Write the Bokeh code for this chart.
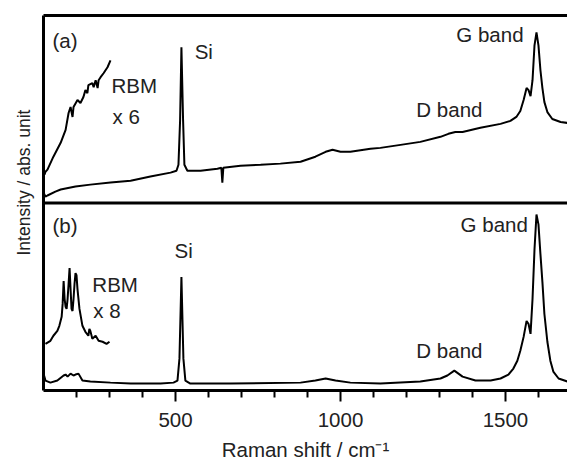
import math
from bokeh.plotting import figure
from bokeh.models import Range1d, FixedTicker, Span, Label, LinearAxis, Title
from bokeh.embed import file_html
from bokeh.resources import INLINE

# ---------------- data (wavenumber cm^-1, intensity a.u. per panel 0..100) -------------
a_wn = [100, 106, 112, 136, 152, 197, 242, 303, 364, 424, 485, 503, 509, 514, 518, 523, 527,
        536, 576, 627, 639, 642, 645, 697, 758, 818, 879, 924, 955, 976, 1000, 1030, 1091,
        1121, 1182, 1242, 1303, 1327, 1348, 1370, 1424, 1485, 1515, 1533, 1545, 1555, 1564,
        1570, 1576, 1582, 1588, 1594, 1600, 1606, 1612, 1618, 1627, 1642, 1667, 1688, 1700]
a_int = [5.6, 3.4, 4.0, 6.1, 7.2, 8.8, 9.8, 10.9, 11.9, 14.1, 16.2, 17.2, 20.4, 44.3, 83.0,
         44.3, 20.4, 17.2, 17.2, 18.3, 18.8, 10.9, 18.8, 19.9, 20.4, 21.0, 22.0, 24.7, 27.3,
         28.4, 27.3, 27.3, 28.9, 29.4, 31.0, 32.6, 35.3, 36.9, 37.9, 37.9, 40.1, 42.2, 43.8,
         45.9, 49.1, 54.9, 61.3, 60.2, 57.0, 65.5, 84.1, 91.0, 84.1, 70.8, 61.3, 53.8, 48.5,
         44.8, 43.2, 42.7, 42.7]

a_rbm_wn = [103, 106, 112, 130, 152, 167, 176, 182, 188, 191, 203, 212, 221, 227, 233, 236,
            248, 252, 258, 264, 267, 273, 282, 294, 303]
a_rbm_int = [15.1, 16.7, 17.8, 24.7, 32.1, 39.0, 48.0, 51.2, 45.9, 51.2, 54.9, 53.3, 56.5,
             60.2, 58.6, 62.9, 63.9, 61.8, 65.5, 61.3, 65.5, 67.1, 69.2, 72.4, 76.1]

b_wn = [100, 106, 121, 142, 161, 167, 173, 182, 191, 197, 206, 218, 242, 303, 364, 455, 494,
        506, 512, 518, 524, 530, 545, 667, 879, 924, 955, 985, 1030, 1121, 1242, 1303, 1324,
        1345, 1370, 1409, 1455, 1485, 1509, 1524, 1536, 1545, 1555, 1564, 1570, 1576, 1582,
        1588, 1594, 1600, 1606, 1612, 1618, 1627, 1636, 1645, 1661, 1688, 1700]
b_int = [9.0, 5.3, 4.2, 5.3, 8.0, 8.5, 7.4, 9.0, 8.0, 8.5, 9.0, 5.3, 4.8, 4.2, 3.7, 3.7, 4.2,
         5.3, 17.0, 60.5, 17.0, 5.3, 3.7, 3.7, 4.2, 5.3, 6.4, 5.3, 4.2, 3.7, 4.8, 6.4, 8.0,
         10.6, 7.4, 5.3, 5.3, 6.4, 8.5, 11.7, 15.9, 21.2, 28.6, 37.1, 35.5, 30.2, 48.8, 75.3,
         93.9, 88.6, 72.7, 57.8, 40.8, 26.0, 15.9, 10.1, 6.4, 4.8, 4.8]

b_rbm_wn = [106, 121, 130, 142, 148, 155, 158, 161, 164, 167, 170, 173, 176, 179, 182, 185,
            188, 191, 194, 197, 200, 203, 209, 218, 227, 236, 239, 242, 248, 258, 267, 279,
            291, 300]
b_rbm_int = [24.9, 26.5, 29.2, 31.8, 34.5, 39.3, 46.2, 58.4, 48.8, 44.6, 43.5, 48.8, 56.8,
             65.3, 54.1, 43.5, 42.4, 48.8, 56.8, 62.6, 61.5, 54.1, 43.5, 34.5, 31.3, 29.2,
             32.9, 31.8, 27.6, 29.2, 26.5, 26.0, 24.9, 26.0]

x_ticks = [500, 1000, 1500]
x_minor = [200, 300, 400, 600, 700, 800, 900, 1100, 1200, 1300, 1400, 1600]

# ---------------- figure -------------
FONT = "Liberation Sans"
FS = "20.5px"
TXT = "#222222"
PANEL_A_OFFSET = 100

p = figure(width=567, height=463, x_range=Range1d(100, 1688), y_range=Range1d(0, 200),
           output_backend="svg", toolbar_location=None,
           min_border_left=43, min_border_right=0, min_border_top=15, min_border_bottom=71)
p.outline_line_color = None
p.grid.visible = False
p.background_fill_color = "white"
p.border_fill_color = "white"

xa = p.xaxis[0]
xa.ticker = FixedTicker(ticks=x_ticks, minor_ticks=x_minor)
xa.axis_line_width = 3
xa.major_tick_line_width = 2
xa.minor_tick_line_width = 2
xa.major_tick_in = 0
xa.major_tick_out = 11
xa.minor_tick_in = 0
xa.minor_tick_out = 7
xa.major_label_text_font = FONT
xa.major_label_text_font_size = FS
xa.major_label_text_color = TXT
xa.major_label_standoff = 11
xa.axis_label = "Raman shift / cm\u207b\u00b9"
xa.axis_label_text_font = FONT
xa.axis_label_text_font_size = FS
xa.axis_label_text_font_style = "normal"
xa.axis_label_text_color = TXT
xa.axis_label_standoff = 8

ya = p.yaxis[0]
ya.ticker = FixedTicker(ticks=[])
ya.axis_line_width = 3
ya.major_label_standoff = 0

top = LinearAxis(ticker=FixedTicker(ticks=[]), axis_line_width=3)
p.add_layout(top, "above")

ytitle = Title(text="Intensity / abs. unit", align="left", offset=135, standoff=19,
               text_font=FONT, text_font_size="17.5px", text_font_style="normal",
               text_color=TXT)
p.add_layout(ytitle, "left")

p.add_layout(Span(location=PANEL_A_OFFSET, dimension="width", line_color="black", line_width=3))

# spectra
p.line(a_wn, [v + PANEL_A_OFFSET for v in a_int], line_color="black", line_width=2)
p.line(a_rbm_wn, [v + PANEL_A_OFFSET for v in a_rbm_int], line_color="black", line_width=2)
p.line(b_wn, b_int, line_color="black", line_width=2)
p.line(b_rbm_wn, b_rbm_int, line_color="black", line_width=2)

def lab(x, y, t, **kw):
    p.add_layout(Label(x=x, y=y, text=t, text_font=FONT, text_font_size=FS,
                       text_color=TXT, **kw))

lab(127, 180.4, "(a)")
lab(306, 156.5, "RBM")
lab(309, 140.0, "x 6")
lab(558, 174.5, "Si")
lab(1230, 143.8, "D band")
lab(1351, 183.6, "G band")

lab(127, 81.7, "(b)")
lab(248, 50.4, "RBM")
lab(251, 36.6, "x 8")
lab(497, 68.4, "Si")
lab(1230, 15.4, "D band")
lab(1364, 82.2, "G band")

open("out.html", "w").write(file_html(p, INLINE))
